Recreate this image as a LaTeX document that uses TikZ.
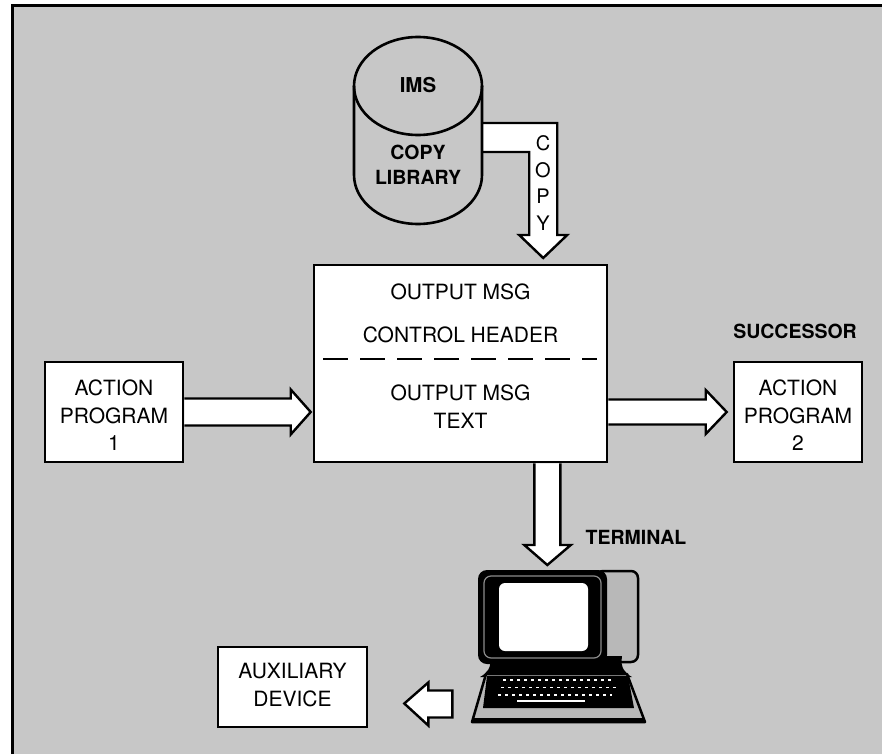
\documentclass[tikz,border=0pt]{standalone}
\usepackage{fontspec}
\setmainfont{TeX Gyre Heros}
\usetikzlibrary{calc}
\definecolor{paper}{gray}{0.78}
\definecolor{casegray}{gray}{0.72}
\definecolor{rimgray}{gray}{0.55}

\begin{document}
\begin{tikzpicture}[x=1pt,y=-1pt,
  box/.style={draw=black, fill=white, line width=2.6pt, inner sep=0pt},
  blockarrow/.style={draw=black, fill=white, line width=2.4pt, line join=miter},
  lbl/.style={font=\fontsize{21}{27.5}\selectfont, align=center, inner sep=0pt},
  tag/.style={font=\bfseries\fontsize{19.5}{25}\selectfont, align=center, inner sep=0pt},
]
\useasboundingbox (0,0) rectangle (882,754);
\fill[white] (0,0) rectangle (882,754);
\fill[paper] (12,6) rectangle (882,754);
\draw[line width=3pt] (12,754) -- (12,6) -- (882,6);

% ---------- copy library (disk) ----------
\node[minimum width=128pt, minimum height=187pt, inner sep=0pt] (lib) at (418,130.5) {};
\draw[blockarrow] ($(lib.east)+(0,-7.5)$) -- ++(75,0) -- ++(0,112) -- ++(10,0)
  -- ++(-24,23) -- ++(-24,-23) -- ++(10,0) -- ++(0,-83) -- ($(lib.east)+(0,21.5)$);
\draw[line width=2.6pt] (418,86) ellipse [x radius=64, y radius=49];
\draw[line width=2.6pt] (354,86) -- (354,175)
  arc[start angle=180, end angle=0, x radius=64, y radius=49] -- (482,86);
\node[tag, font=\bfseries\fontsize{20.5}{25}\selectfont] (ims) at (418,85) {IMS};
\node[tag] (libname) at (418,164.5) {COPY\\LIBRARY};
\node[lbl, font=\fontsize{20}{26.7}\selectfont] (copy) at (543,183) {C\\O\\P\\Y};

% ---------- message box ----------
\node[box, minimum width=293pt, minimum height=197pt] (main) at (460.5,363.5) {};
\node[lbl] (h1) at (460.5,292) {OUTPUT MSG};
\node[lbl] (h2) at (460.5,335) {CONTROL HEADER};
\draw[line width=2pt, dash pattern=on 25pt off 12pt] (323,359) -- (597,359);
\node[lbl] (t1) at (460.5,406.5) {OUTPUT MSG\\TEXT};

% ---------- action programs ----------
\node[box, minimum width=138pt, minimum height=100pt] (ap1) at (114,412) {};
\node[lbl] (ap1t) at (114,415.5) {ACTION\\PROGRAM\\1};
\node[box, minimum width=128pt, minimum height=100pt] (ap2) at (798,412) {};
\node[lbl] (ap2t) at (798,415.5) {ACTION\\PROGRAM\\2};
\node[tag] (succ) at (795,331) {SUCCESSOR};

\draw[blockarrow] ($(ap1.east)+(0,-13.5)$) -- ($(main.west|-ap1.east)+(-22,-13.5)$)
  -- ++(0,-9) -- ($(main.west|-ap1.east)+(-2,0)$) -- ($(main.west|-ap1.east)+(-22,22.5)$)
  -- ++(0,-9) -- ($(ap1.east)+(0,13.5)$);
\draw[blockarrow] ($(main.east|-ap2.west)+(0,-12.5)$) -- ($(ap2.west)+(-27,-12.5)$)
  -- ++(0,-9.5) -- ($(ap2.west)+(-6,0)$) -- ($(ap2.west)+(-27,22)$)
  -- ++(0,-9.5) -- ($(main.east|-ap2.west)+(0,12.5)$);

% ---------- terminal ----------
\coordinate (term) at (546,570);
\coordinate (dn) at ($(main.south east)+(-61,0)$);
\draw[blockarrow] ($(dn)+(-13,0)$) -- ($(dn|-term)+(-13,-25)$) -- ++(-10,0)
  -- ($(dn|-term)+(0,-5)$) -- ($(dn|-term)+(23.5,-25)$) -- ++(-10.5,0) -- ($(dn)+(13,0)$);
\node[tag] (termlbl) at (636,537) {TERMINAL};

% monitor case, side part
\draw[fill=casegray, line width=2.5pt, rounded corners=7pt] (596,571) rectangle (638,662);
% neck
\fill[black] (490,656) .. controls (492,668) and (487,673) .. (480,677) -- (632,677)
  .. controls (625,673) and (620,668) .. (622,656) -- cycle;
% monitor front
\fill[black, rounded corners=9pt] (478,570) rectangle (607,664);
\draw[rimgray, line width=1.2pt, rounded corners=7pt] (484,576) rectangle (601,658);
\fill[white, rounded corners=6pt] (499,583) rectangle (588,651);
% keyboard
\draw[fill=casegray, line width=2.5pt, line join=round] (486,674) -- (627,674) -- (645,722) -- (472,722) -- cycle;
\fill[black] (487,676) -- (628,676) -- (634,708) -- (483,708) -- cycle;
\draw[line width=3pt] (474,719) -- (644,719);
\draw[white, line width=1.3pt, dash pattern=on 3pt off 4pt] (503,680) -- (611,680);
\draw[white, line width=1.3pt, dash pattern=on 3pt off 4pt] (501,687.5) -- (618,687.5);
\draw[white, line width=1.3pt, dash pattern=on 3pt off 4pt] (498,695) -- (612,695);
\draw[white, line width=1.5pt] (517,701) -- (585,701);

% ---------- auxiliary device ----------
\node[box, minimum width=149pt, minimum height=80pt] (aux) at (292.5,687) {};
\node[lbl] (auxt) at (292.5,685) {AUXILIARY\\DEVICE};
\coordinate (auxtip) at ($(aux.east)+(36,16.5)$);
\draw[blockarrow] (auxtip) -- ++(24,-21) -- ++(0,8) -- ++(24,0) -- ++(0,27)
  -- ++(-24,0) -- ++(0,8) -- cycle;
\end{tikzpicture}
\end{document}
